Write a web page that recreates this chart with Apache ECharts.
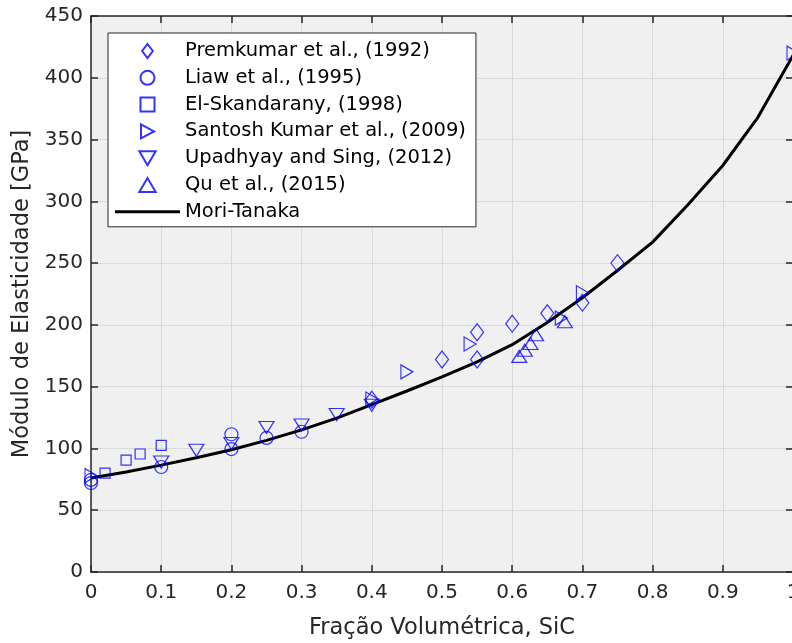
<!DOCTYPE html>
<html>
<head>
<meta charset="utf-8">
<script src="https://cdn.jsdelivr.net/npm/echarts@6/dist/echarts.min.js"></script>
<style>
html,body{margin:0;padding:0;background:#fff;}
#chart{width:792px;height:643px;}
</style>
</head>
<body>
<div id="chart"></div>
<script>
// ---- Data ----
const premkumar = [[0.4,139.5],[0.5,172],[0.55,194],[0.55,172],[0.6,201],[0.65,209.5],[0.7,218],[0.75,250]];
const liaw = [[0,72],[0,74.5],[0.1,85],[0.2,99.5],[0.2,111.5],[0.25,108.5],[0.3,113.5]];
const elSkandarany = [[0.02,80],[0.05,90.6],[0.07,95.5],[0.1,102.5]];
const santosh = [[0,78],[0.4,140],[0.45,162],[0.54,184.5],[0.67,205.5],[0.7,226],[1.0,420]];
const upadhyay = [[0.1,89],[0.15,98.5],[0.2,104],[0.25,117],[0.3,119],[0.35,127.5],[0.4,135]];
const qu = [[0.61,174.5],[0.618,179.5],[0.626,185],[0.634,192],[0.675,202.5]];
const moriX = [0,0.05,0.1,0.15,0.2,0.25,0.3,0.35,0.4,0.45,0.5,0.55,0.6,0.65,0.7,0.75,0.8,0.85,0.9,0.95,1.0];
const moriY = [76,81,86.5,92.5,99,106.5,115,124.5,135.5,146.5,158,170,184,202,222,244,267,297,329,368,418];
const seriesNames = ['Premkumar et al., (1992)','Liaw et al., (1995)','El-Skandarany, (1998)','Santosh Kumar et al., (2009)','Upadhyay and Sing, (2012)','Qu et al., (2015)','Mori-Tanaka'];
const xTicks = {min:0, max:1, interval:0.1};
const yTicks = {min:0, max:450, interval:50};

const BLUE = '#0000ff';
const AX = '#262626';
const FONT = 'DejaVu Sans';

const SYM = {
  diamond:'path://M6.5,0L13,8.5L6.5,17L0,8.5Z',
  square:'path://M0,0H10V10H0Z',
  right:'path://M0,0L13,7L0,14Z',
  down:'path://M0,0L14,0L7,12Z',
  up:'path://M7,0L14,12L0,12Z',
  line:'path://M0,0H65V3H0Z'
};

function scatter(name, data, symbol, size){
  return {
    name, type:'scatter', data, symbol, symbolSize:size, symbolKeepAspect:false,
    itemStyle:{color:'rgba(0,0,0,0)', borderColor:BLUE, borderWidth:1.2},
    emphasis:{disabled:true}, z:3
  };
}

const chart = echarts.init(document.getElementById('chart'), null, {renderer:'canvas'});
const axisCommon = {
  axisLine:{show:true, onZero:false, lineStyle:{color:AX, width:1.5}},
  axisTick:{show:true, inside:true, length:7, lineStyle:{color:AX, width:1.5}},
};
chart.setOption({
  animation:false,
  backgroundColor:'#ffffff',
  textStyle:{fontFamily:FONT},
  grid:{left:91, top:16, width:702, height:556, outerBoundsMode:'none', containLabel:false,
        show:true, backgroundColor:'#f0f0f0', borderWidth:0},
  legend:{
    orient:'vertical', left:108, top:33,
    padding:[8,10,5,7],
    itemWidth:65, itemHeight:14, itemGap:6.8,
    symbolKeepAspect:true,
    backgroundColor:'#ffffff', borderColor:AX, borderWidth:1,
    textStyle:{fontFamily:FONT, fontSize:19.5, lineHeight:20, color:'#000'},
    data:[
      {name:seriesNames[0], icon:SYM.diamond},
      {name:seriesNames[1], icon:'circle'},
      {name:seriesNames[2], icon:SYM.square},
      {name:seriesNames[3], icon:SYM.right},
      {name:seriesNames[4], icon:SYM.down},
      {name:seriesNames[5], icon:SYM.up},
      {name:seriesNames[6], icon:SYM.line, itemStyle:{color:'#000'}}
    ]
  },
  xAxis:[
    Object.assign({type:'value', min:xTicks.min, max:xTicks.max, interval:xTicks.interval,
      name:'Fração Volumétrica, SiC', nameLocation:'middle', nameGap:45,
      nameTextStyle:{fontFamily:FONT, fontSize:22.5, color:AX},
      axisLabel:{fontFamily:FONT, fontSize:20, color:AX, margin:11, showMaxLabel:true, hideOverlap:false,
        formatter:v=>(Math.abs(v)<1e-9?'0':(Math.abs(v-1)<1e-9?'1':v.toFixed(1)))},
      splitLine:{show:true, lineStyle:{color:'#dadada', width:1}}}, axisCommon),
    Object.assign({type:'value', position:'top', min:xTicks.min, max:xTicks.max, interval:xTicks.interval,
      axisLabel:{show:false}, splitLine:{show:false}}, axisCommon)
  ],
  yAxis:[
    Object.assign({type:'value', min:yTicks.min, max:yTicks.max, interval:yTicks.interval,
      name:'Módulo de Elasticidade [GPa]', nameLocation:'middle', nameGap:55, nameRotate:90,
      nameTextStyle:{fontFamily:FONT, fontSize:22.5, color:AX},
      axisLabel:{fontFamily:FONT, fontSize:20, color:AX, margin:8},
      splitLine:{show:true, lineStyle:{color:'#dadada', width:1}}}, axisCommon),
    Object.assign({type:'value', position:'right', min:yTicks.min, max:yTicks.max, interval:yTicks.interval,
      axisLabel:{show:false}, splitLine:{show:false}}, axisCommon)
  ],
  series:[
    scatter(seriesNames[0], premkumar, SYM.diamond, [13,17]),
    scatter(seriesNames[1], liaw, 'circle', 13),
    scatter(seriesNames[2], elSkandarany, SYM.square, [10,10]),
    scatter(seriesNames[3], santosh, SYM.right, [12,14]),
    scatter(seriesNames[4], upadhyay, SYM.down, [15,12]),
    scatter(seriesNames[5], qu, SYM.up, [15,12]),
    {name:seriesNames[6], type:'line', data:moriX.map((x,i)=>[x,moriY[i]]), symbol:'none',
     lineStyle:{color:'#000', width:3}, itemStyle:{color:'#000'}, z:2, emphasis:{disabled:true}}
  ]
});
</script>
</body>
</html>
